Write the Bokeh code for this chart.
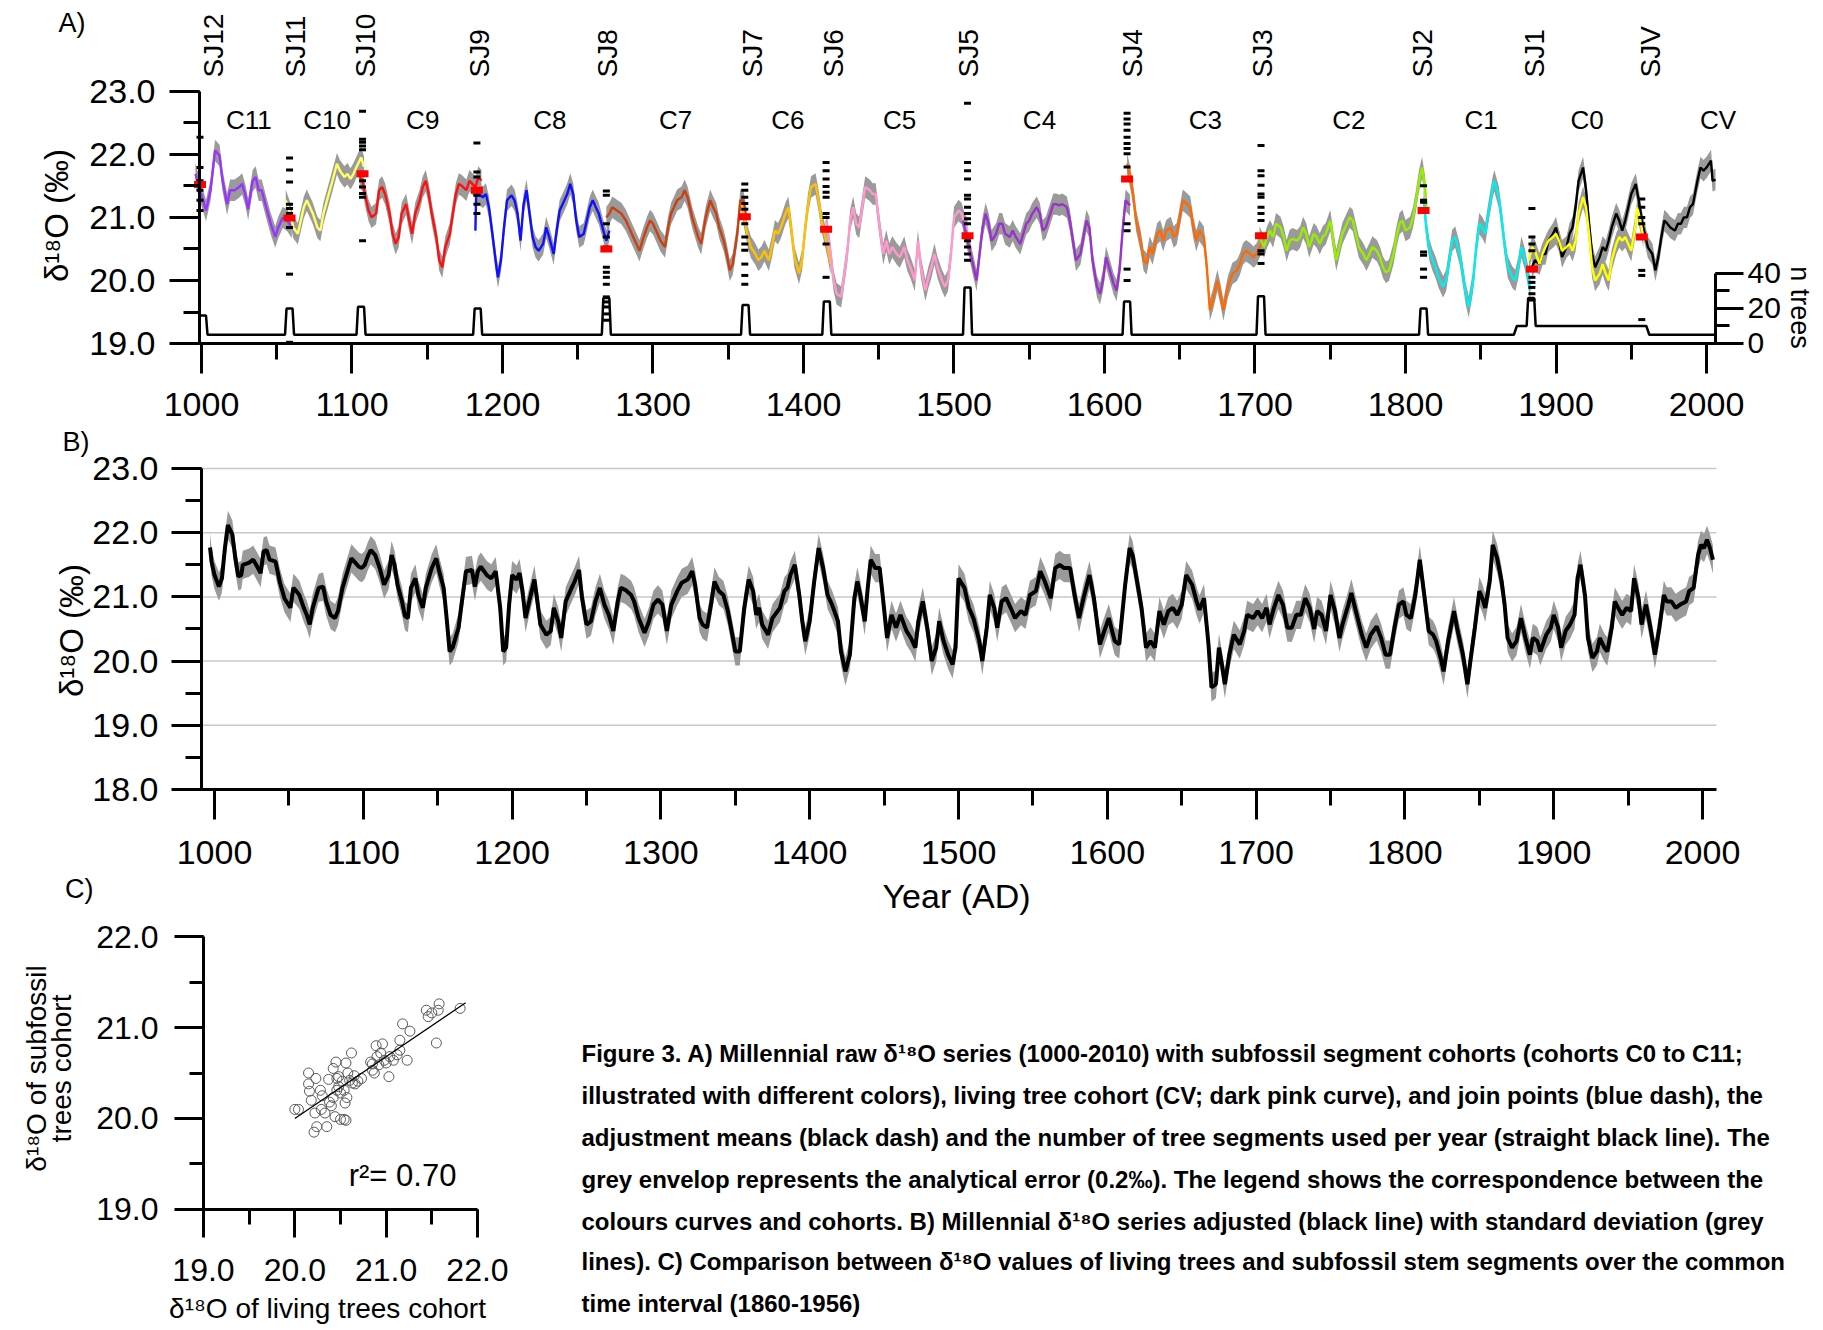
import math
from bokeh.plotting import figure
from bokeh.layouts import column, row
from bokeh.models import (Range1d, LinearAxis, SingleIntervalTicker, PrintfTickFormatter)
from bokeh.embed import file_html
from bokeh.resources import INLINE
from bokeh.core.properties import value

FONT = "Liberation Sans"

# ---------------- Panel A: raw cohorts ----------------
c11_year = [996, 999, 1003, 1006, 1009, 1012, 1014, 1017, 1019, 1022, 1025, 1027, 1029, 1031, 1034, 1036, 1038, 1040, 1043, 1046, 1049, 1051, 1054, 1057, 1060]
c11_val = [21.69, 21.43, 21.11, 21.43, 22.06, 21.98, 21.58, 21.21, 21.43, 21.43, 21.48, 21.53, 21.37, 21.13, 21.58, 21.64, 21.43, 21.43, 21.16, 20.90, 20.69, 20.84, 21.0, 20.95, 20.84]
c10_year = [1056, 1059, 1061, 1064, 1066, 1068, 1070, 1074, 1077, 1079, 1081, 1084, 1087, 1090, 1092, 1095, 1097, 1099, 1101, 1103, 1106, 1108]
c10_val = [21.27, 21.06, 20.84, 20.74, 20.95, 21.16, 21.27, 21.06, 20.84, 20.79, 21.06, 21.32, 21.58, 21.85, 21.74, 21.64, 21.69, 21.61, 21.69, 21.80, 21.95, 21.80]
c9_year = [1105, 1107, 1109, 1111, 1113, 1116, 1118, 1120, 1122, 1125, 1127, 1129, 1131, 1133, 1136, 1138, 1140, 1142, 1145, 1147, 1149, 1151, 1153, 1156, 1158, 1160, 1162, 1165, 1167, 1169, 1171, 1173, 1176, 1178, 1180, 1182, 1184, 1186]
c9_val = [21.64, 21.58, 21.32, 21.11, 21.0, 21.06, 21.43, 21.48, 21.37, 21.06, 20.74, 20.58, 20.69, 21.06, 21.21, 20.95, 20.74, 21.06, 21.27, 21.48, 21.58, 21.37, 21.06, 20.69, 20.32, 20.21, 20.53, 20.74, 21.06, 21.37, 21.53, 21.50, 21.43, 21.58, 21.53, 21.48, 21.64, 21.58]
c8_year = [1182, 1182.5, 1184, 1187, 1189, 1191, 1193, 1196, 1197, 1199, 1201, 1203, 1206, 1208, 1210, 1212, 1214, 1216, 1218, 1220, 1222, 1224, 1227, 1229, 1231, 1234, 1236, 1238, 1240, 1243, 1245, 1247, 1249, 1251, 1254, 1256, 1258, 1260, 1262, 1264, 1267, 1269, 1271]
c8_val = [20.79, 21.37, 21.37, 21.32, 21.37, 21.16, 20.79, 20.21, 20.05, 20.32, 20.84, 21.27, 21.35, 21.27, 21.06, 20.63, 21.21, 21.43, 21.06, 20.69, 20.53, 20.47, 20.58, 20.84, 20.69, 20.42, 20.79, 21.11, 21.21, 21.37, 21.53, 21.37, 20.95, 20.69, 20.74, 20.95, 21.16, 21.27, 21.16, 21.06, 20.79, 20.63, 20.79]
c7_year = [1269, 1271, 1273, 1276, 1279, 1282, 1285, 1289, 1291, 1293, 1296, 1298, 1300, 1303, 1305, 1308, 1310, 1312, 1314, 1316, 1319, 1321, 1323, 1326, 1330, 1332, 1335, 1338, 1340, 1342, 1344, 1347, 1349, 1351, 1353, 1356, 1358, 1360, 1362]
c7_val = [21.0, 21.06, 21.16, 21.11, 21.06, 20.95, 20.79, 20.58, 20.47, 20.63, 20.84, 20.95, 20.90, 20.74, 20.63, 20.53, 20.84, 21.06, 21.16, 21.27, 21.32, 21.43, 21.32, 21.0, 20.69, 20.58, 21.0, 21.27, 21.16, 21.06, 20.84, 20.63, 20.42, 20.16, 20.26, 20.74, 21.27, 21.27, 21.0]
c6_year = [1359, 1361, 1363, 1365, 1368, 1370, 1372, 1374, 1377, 1379, 1381, 1383, 1385, 1388, 1390, 1392, 1394, 1397, 1399, 1401, 1403, 1405, 1408, 1410, 1412, 1414, 1416, 1418]
c6_val = [21.21, 20.95, 20.69, 20.53, 20.42, 20.32, 20.37, 20.47, 20.32, 20.53, 20.79, 20.74, 20.84, 21.06, 21.16, 20.79, 20.37, 20.11, 20.32, 20.79, 21.21, 21.48, 21.53, 21.27, 20.95, 20.74, 20.53, 20.26]
c5_year = [1415, 1418, 1420, 1422, 1425, 1426, 1429, 1431, 1433, 1435, 1437, 1439, 1441, 1444, 1446, 1448, 1450, 1453, 1455, 1457, 1459, 1462, 1464, 1467, 1469, 1471, 1474, 1476, 1478, 1481, 1483, 1485, 1487, 1489, 1492, 1494, 1496, 1498, 1500, 1503, 1505, 1507, 1509]
c5_val = [20.95, 20.42, 20.0, 19.79, 19.74, 19.9, 20.42, 20.95, 21.16, 20.9, 20.84, 21.16, 21.48, 21.43, 21.37, 21.37, 20.95, 20.42, 20.63, 20.42, 20.53, 20.42, 20.37, 20.53, 20.32, 20.21, 20.0, 20.63, 20.21, 19.84, 20.05, 20.21, 20.42, 20.21, 20.0, 19.9, 20.0, 20.42, 21.0, 21.11, 21.06, 20.9, 20.8]
c4_year = [1506, 1508, 1510, 1513, 1515, 1517, 1519, 1521, 1523, 1525, 1528, 1530, 1532, 1534, 1537, 1539, 1541, 1544, 1546, 1548, 1550, 1552, 1555, 1557, 1559, 1561, 1564, 1566, 1568, 1570, 1572, 1575, 1577, 1579, 1581, 1584, 1586, 1588, 1590, 1592, 1595, 1597, 1599, 1601, 1603, 1606, 1608, 1610, 1612, 1614, 1617]
c4_val = [20.95, 20.74, 20.53, 20.21, 20.0, 20.42, 20.84, 21.06, 20.90, 20.63, 20.74, 20.9, 20.9, 20.74, 20.69, 20.79, 20.69, 20.58, 20.74, 20.9, 20.95, 21.06, 21.16, 21.06, 20.79, 20.84, 21.06, 21.21, 21.21, 21.19, 21.21, 21.16, 20.95, 20.63, 20.32, 20.42, 20.69, 20.95, 20.84, 20.32, 19.9, 19.79, 20.0, 20.37, 20.21, 19.95, 19.84, 20.16, 20.79, 21.27, 21.19]
c3_year = [1615, 1617, 1619, 1621, 1624, 1626, 1628, 1630, 1632, 1635, 1637, 1639, 1641, 1644, 1646, 1648, 1650, 1652, 1655, 1657, 1659, 1661, 1663, 1666, 1668, 1670, 1672, 1675, 1677, 1679, 1682, 1685, 1688, 1690, 1692, 1694, 1697, 1699, 1701, 1703, 1705]
c3_val = [21.85, 21.64, 21.37, 20.95, 20.63, 20.32, 20.26, 20.53, 20.42, 20.74, 20.79, 20.63, 20.79, 20.84, 20.69, 20.74, 21.0, 21.27, 21.21, 21.16, 20.84, 20.63, 20.79, 20.69, 20.21, 19.53, 19.69, 20.0, 19.79, 19.53, 19.9, 20.11, 20.16, 20.26, 20.42, 20.47, 20.42, 20.37, 20.42, 20.53, 20.6]
c2_year = [1703, 1706, 1708, 1710, 1712, 1714, 1717, 1719, 1721, 1723, 1725, 1728, 1730, 1732, 1734, 1736, 1739, 1741, 1743, 1745, 1747, 1750, 1752, 1754, 1756, 1758, 1761, 1763, 1765, 1767, 1769, 1772, 1774, 1776, 1778, 1781, 1783, 1785, 1787, 1789, 1792, 1794, 1796, 1798, 1800, 1803, 1805, 1807, 1809, 1811, 1813, 1814]
c2_val = [20.69, 20.53, 20.69, 20.79, 20.69, 20.9, 20.84, 20.69, 20.47, 20.63, 20.66, 20.63, 20.69, 20.84, 20.74, 20.53, 20.74, 20.69, 20.58, 20.69, 20.74, 20.95, 20.63, 20.32, 20.53, 20.74, 20.90, 21.0, 20.95, 20.74, 20.53, 20.42, 20.32, 20.42, 20.53, 20.47, 20.37, 20.21, 20.13, 20.16, 20.42, 20.69, 20.9, 20.95, 20.79, 20.84, 21.0, 21.27, 21.58, 21.79, 21.48, 21.16]
c1_year = [1812, 1814, 1816, 1818, 1820, 1822, 1825, 1827, 1829, 1831, 1833, 1836, 1838, 1840, 1842, 1845, 1847, 1849, 1851, 1853, 1855, 1858, 1859, 1862, 1864, 1866, 1868, 1871, 1873, 1875, 1877, 1879, 1882, 1883]
c1_val = [21.3, 20.79, 20.47, 20.32, 20.21, 20.05, 19.90, 20.0, 20.32, 20.63, 20.69, 20.42, 20.11, 19.79, 19.58, 20.0, 20.53, 20.9, 20.84, 20.74, 21.06, 21.48, 21.58, 21.32, 20.95, 20.53, 20.21, 20.05, 20.0, 20.21, 20.53, 20.37, 20.0, 19.85]
c0_year = [1882, 1884, 1886, 1889, 1891, 1893, 1895, 1898, 1900, 1902, 1904, 1907, 1909, 1911, 1913, 1915, 1918, 1920, 1922, 1924, 1926, 1929, 1931, 1933, 1935, 1937, 1940, 1942, 1944, 1946, 1948, 1950, 1953, 1954, 1956, 1958]
c0_val = [20.32, 20.53, 20.47, 20.26, 20.42, 20.53, 20.63, 20.69, 20.74, 20.63, 20.47, 20.53, 20.58, 20.47, 20.63, 21.06, 21.32, 21.16, 20.74, 20.21, 20.0, 20.11, 20.26, 20.11, 20.0, 20.32, 20.58, 20.69, 20.63, 20.69, 20.58, 20.47, 20.90, 21.16, 20.95, 20.69]
cv_year = [1884, 1886, 1889, 1891, 1893, 1895, 1898, 1900, 1902, 1904, 1907, 1909, 1911, 1913, 1915, 1918, 1920, 1922, 1924, 1926, 1929, 1931, 1933, 1935, 1937, 1940, 1942, 1944, 1946, 1948, 1950, 1953, 1955, 1957, 1959, 1961, 1964, 1966, 1968, 1970, 1972, 1974, 1976, 1979, 1981, 1983, 1985, 1987, 1989, 1991, 1994, 1996, 1998, 2000, 2003, 2004, 2006]
cv_val = [20.21, 20.32, 20.26, 20.42, 20.42, 20.63, 20.74, 20.84, 20.63, 20.37, 20.53, 20.74, 20.84, 21.16, 21.58, 21.79, 21.43, 20.9, 20.42, 20.21, 20.37, 20.53, 20.47, 20.63, 20.84, 21.06, 20.95, 20.79, 20.95, 21.16, 21.37, 21.53, 21.27, 20.95, 20.74, 20.53, 20.42, 20.16, 20.37, 20.69, 20.95, 20.90, 20.84, 20.79, 20.90, 20.9, 21.0, 21.0, 21.16, 21.21, 21.58, 21.79, 21.74, 21.79, 21.90, 21.58, 21.6]

cohort_names = ["C11", "C10", "C9", "C8", "C7", "C6", "C5", "C4", "C3", "C2", "C1", "C0", "CV"]
cohort_colors = ["#9933FF", "#FFFF66", "#FF1010", "#1010FF", "#CC4010", "#FFC000", "#FF99CC",
                 "#9933CC", "#FF6A00", "#99EE00", "#00EEEE", "#FFFF00", "#000000"]
cohort_label_year = [1031.5, 1083.5, 1147, 1231.5, 1315, 1389.6, 1463.8, 1556.8, 1667, 1762.4, 1850.3, 1920.6, 2007.6]
cohort_label_val = 22.54

join_names = ["SJ12", "SJ11", "SJ10", "SJ9", "SJ8", "SJ7", "SJ6", "SJ5", "SJ4", "SJ3", "SJ2", "SJ1", "SJV"]
join_label_year = [1007.7, 1062.3, 1109, 1185, 1269.8, 1366, 1420, 1509.5, 1618.3, 1705, 1811, 1885.4, 1962.5]
join_year = [999, 1058.5, 1107, 1183, 1269, 1361, 1415, 1509, 1615, 1704, 1812, 1884, 1957]
join_val = [21.52, 20.99, 21.69, 21.43, 20.5, 21.01, 20.81, 20.71, 21.61, 20.71, 21.11, 20.18, 20.69]

d_sj12 = [22.27, 21.79, 21.58, 21.43, 21.27, 21.11]
d_sj11 = [21.94, 21.75, 21.56, 21.21, 21.14, 21.06, 20.84, 20.10, 19.02]
d_sj10 = [22.68, 22.24, 22.19, 22.13, 22.07, 21.58, 21.48, 21.38, 21.32, 20.63]
d_sj9 = [22.18, 21.72, 21.64, 21.43, 21.35, 21.21, 21.06]
d_sj8 = [21.42, 21.35, 20.90, 20.69, 20.53, 20.21, 20.13, 20.05, 19.94, 19.74, 19.66, 19.58, 19.47, 19.37]
d_sj7 = [21.53, 21.43, 21.32, 21.22, 21.13, 20.90, 20.69, 20.58, 20.48, 20.26, 20.08, 19.94]
d_sj6 = [21.87, 21.74, 21.61, 21.49, 21.40, 21.32, 21.06, 21.0, 20.58, 20.05]
d_sj5 = [22.81, 21.87, 21.74, 21.61, 21.35, 21.29, 21.16, 21.06, 20.98, 20.90, 20.63, 20.53, 20.42, 20.32]
d_sj4 = [22.65, 22.56, 22.48, 22.38, 22.27, 22.17, 22.09, 22.01, 21.80, 20.90, 20.79, 20.18, 20.0]
d_sj3 = [22.14, 21.74, 21.66, 21.51, 21.37, 21.32, 21.16, 21.06, 20.95, 20.47, 20.42, 20.27]
d_sj2 = [21.50, 21.27, 21.24, 20.45, 20.40, 20.18, 20.05]
d_sj1 = [21.14, 20.69, 20.58, 20.47, 20.05, 19.97, 19.89, 19.79, 19.69]
d_sjv = [21.29, 21.16, 21.0, 20.90, 20.16, 20.08, 19.38]

# number of trees (step line)
ntree_base = 5
ntree_start_n = 16
ntree_start_end = 1003
ntree_peak_year = [1058.5, 1106, 1183.5, 1269, 1361.5, 1415.5, 1509, 1615, 1704, 1812, 1883.5]
ntree_peak_n = [20, 21, 20, 26, 22, 24, 32, 24, 27, 20, 26]
ntree_plateau = (1873, 1960, 10)

# ---------------- Panel B: adjusted series ----------------
b_year = [997, 998, 1000, 1003, 1005, 1007, 1009, 1012, 1014, 1016, 1018, 1019, 1023, 1026, 1028, 1031, 1033, 1035, 1037, 1041, 1044, 1047, 1051, 1053, 1055, 1057, 1060, 1062, 1064, 1066, 1070, 1073, 1075, 1078, 1081, 1083, 1086, 1090, 1092, 1094, 1097, 1099, 1101, 1103, 1105, 1108, 1111, 1114, 1117, 1119, 1121, 1123, 1126, 1128, 1130, 1132, 1135, 1137, 1140, 1142, 1146, 1149, 1151, 1154, 1156, 1158, 1160, 1164, 1166, 1169, 1173, 1175, 1177, 1179, 1183, 1186, 1189, 1192, 1194, 1196, 1198, 1200, 1203, 1205, 1207, 1209, 1212, 1215, 1217, 1219, 1223, 1226, 1228, 1231, 1233, 1236, 1240, 1242, 1245, 1247, 1250, 1253, 1256, 1259, 1262, 1265, 1268, 1271, 1273, 1276, 1280, 1282, 1285, 1289, 1292, 1295, 1298, 1301, 1304, 1307, 1311, 1314, 1318, 1321, 1323,
          1326, 1328, 1331, 1334, 1336, 1339, 1342, 1345, 1348, 1350, 1353, 1356, 1359, 1362, 1364, 1366, 1368, 1372, 1375, 1380, 1383, 1385, 1387, 1390, 1393, 1395, 1397, 1400, 1403, 1406, 1409, 1412, 1415, 1419, 1421, 1424, 1427, 1430, 1432, 1434, 1437, 1439, 1441, 1444, 1447, 1449, 1452, 1455, 1458, 1461, 1465, 1468, 1471, 1473, 1476, 1479, 1482, 1485, 1487, 1490, 1493, 1496, 1498, 1500, 1504, 1507, 1510, 1514, 1516, 1519, 1521, 1524, 1526, 1529, 1532, 1535, 1538, 1542, 1545, 1548, 1552, 1555, 1558, 1562, 1565, 1568, 1571, 1575, 1578, 1581, 1584, 1588, 1591, 1595, 1598, 1601, 1605, 1608, 1612, 1615, 1617, 1620, 1623, 1626, 1629, 1632, 1635, 1638, 1641, 1644, 1647, 1650, 1653, 1657, 1660,
          1662, 1665, 1668, 1670, 1673, 1675, 1677, 1679, 1682, 1685, 1689, 1692, 1694, 1698, 1701, 1704, 1707, 1709, 1712, 1715, 1718, 1721, 1724, 1727, 1730, 1733, 1736, 1739, 1741, 1744, 1747, 1750, 1753, 1756, 1758, 1762, 1764, 1767, 1771, 1774, 1777, 1781, 1784, 1787, 1790, 1793, 1796, 1799, 1801, 1804, 1807, 1810, 1813, 1816, 1819, 1821, 1824, 1826, 1829, 1833, 1835, 1839, 1842, 1844, 1847, 1850, 1852, 1854, 1857, 1859, 1862, 1865, 1867, 1869, 1872, 1875, 1878, 1881, 1884, 1886, 1889, 1891, 1895, 1898, 1900, 1903, 1905, 1908, 1911, 1914, 1916, 1918, 1921, 1923, 1926, 1929, 1931, 1934, 1936, 1939, 1941, 1944, 1946, 1949, 1952, 1954, 1957, 1959, 1962, 1965, 1968, 1971, 1974, 1976, 1979, 1982, 1985, 1989, 1991, 1994, 1997, 1999, 2001, 2003, 2005, 2007]
b_val = [21.77, 21.55, 21.34, 21.16, 21.29, 21.76, 22.12, 21.97, 21.6, 21.32, 21.34, 21.5, 21.53, 21.58, 21.5, 21.37, 21.71, 21.73, 21.58, 21.55, 21.22, 20.98, 20.83, 21.14, 21.09, 21.03, 20.83, 20.72, 20.57, 20.83, 21.14, 21.16, 20.93, 20.72, 20.67, 20.78, 21.14, 21.45, 21.6, 21.55, 21.47, 21.45, 21.5, 21.63, 21.73, 21.65, 21.45, 21.19, 21.34, 21.65, 21.5, 21.19, 20.93, 20.7, 20.67, 21.14, 21.29, 21.03, 20.83, 21.14, 21.45, 21.6, 21.4, 21.14, 20.67, 20.15, 20.21, 20.52, 20.88, 21.4, 21.42, 21.16, 21.4, 21.47, 21.34, 21.29, 21.4, 20.83, 20.15, 20.21, 20.88, 21.34, 21.27, 21.37, 21.09, 20.67, 20.98, 21.27, 20.93, 20.57, 20.41, 20.47, 20.83, 20.62, 20.36, 20.93, 21.14, 21.24, 21.42, 20.98, 20.57, 20.62, 20.93, 21.14, 20.88, 20.72, 20.47, 20.93, 21.14, 21.11, 21.03, 20.93, 20.67, 20.44, 20.62, 20.88, 20.96, 20.88, 20.47, 20.88, 21.09, 21.22, 21.27, 21.4, 21.19,
         20.67, 20.57, 20.52, 20.93, 21.24, 21.09, 21.03, 20.78, 20.41, 20.15, 20.15, 20.83, 21.27, 21.09, 20.72, 20.83, 20.57, 20.41, 20.67, 20.83, 21.09, 21.14, 21.34, 21.5, 21.03, 20.62, 20.31, 20.62, 21.24, 21.76, 21.45, 21.03, 20.88, 20.62, 20.15, 19.84, 20.1, 20.98, 21.24, 21.03, 20.62, 21.14, 21.58, 21.45, 21.45, 21.03, 20.36, 20.72, 20.52, 20.72, 20.47, 20.36, 20.21, 20.62, 20.93, 20.52, 20.0, 20.21, 20.62, 20.31, 20.1, 19.95, 20.21, 21.29, 21.14, 20.83, 20.67, 20.31, 20.0, 20.52, 21.03, 20.83, 20.52, 20.93, 20.98, 20.83, 20.67, 20.78, 20.72, 21.03, 21.09, 21.4, 21.24, 20.98, 21.45, 21.5, 21.45, 21.45, 21.03, 20.67, 20.98, 21.34, 20.98, 20.26, 20.47, 20.67, 20.31, 20.26, 21.19, 21.76, 21.65, 21.24, 20.83, 20.21, 20.31, 20.21, 20.78, 20.57, 20.78, 20.83, 20.72, 20.88, 21.34, 21.19, 20.93,
         20.8, 20.98, 20.26, 19.59, 19.64, 20.21, 19.95, 19.64, 20.1, 20.41, 20.26, 20.47, 20.72, 20.67, 20.78, 20.67, 20.83, 20.57, 20.83, 21.03, 20.88, 20.52, 20.52, 20.72, 20.72, 20.98, 20.83, 20.5, 20.78, 20.72, 20.47, 21.03, 20.78, 20.36, 20.57, 20.88, 21.06, 20.78, 20.41, 20.21, 20.41, 20.54, 20.36, 20.1, 20.1, 20.52, 20.88, 20.93, 20.72, 20.67, 21.03, 21.58, 21.03, 20.47, 20.41, 20.31, 20.05, 19.84, 20.31, 20.78, 20.52, 20.1, 19.64, 20.0, 20.52, 21.09, 20.98, 20.83, 21.24, 21.81, 21.6, 21.24, 20.88, 20.36, 20.21, 20.31, 20.67, 20.36, 20.1, 20.36, 20.31, 20.15, 20.41, 20.52, 20.72, 20.52, 20.21, 20.47, 20.57, 20.72, 21.29, 21.5, 21.03, 20.36, 20.05, 20.15, 20.36, 20.21, 20.15, 20.52, 20.93, 20.8, 20.72, 20.83, 20.78, 21.29, 20.98, 20.57, 20.88, 20.52, 20.1, 20.52, 21.03, 20.93, 20.93, 20.83, 20.88, 20.93, 21.09, 21.14, 21.65, 21.81, 21.76, 21.89, 21.76, 21.58]
b_sd = 0.22
a_err = 0.17
grid_vals = [19, 20, 21, 22, 23]

# ---------------- Panel C: scatter ----------------
c_living = [20.00, 20.04, 20.15, 20.15, 20.16, 20.18, 20.21, 20.23, 20.24, 20.22, 20.28, 20.29, 20.33, 20.35, 20.37, 20.38, 20.42, 20.42, 20.44, 20.45, 20.46, 20.48, 20.50, 20.52, 20.54, 20.56, 20.55, 20.56, 20.57, 20.58, 20.60, 20.62, 20.63, 20.65, 20.69, 20.73, 20.83, 20.85, 20.87, 20.89, 20.90, 20.92, 20.94, 20.96, 20.98, 21.00, 21.03, 21.04, 21.08, 21.12, 21.15, 21.15, 21.18, 21.23, 21.26, 21.44, 21.46, 21.50, 21.55, 21.57, 21.58, 21.81, 20.46, 20.50, 20.40, 20.54, 20.66, 20.85, 20.30, 20.48]
c_subfossil = [20.10, 20.10, 20.50, 20.38, 20.30, 20.20, 19.85, 20.44, 19.91, 20.06, 20.31, 20.10, 20.06, 19.91, 20.43, 20.18, 20.23, 20.55, 20.02, 20.62, 20.44, 20.46, 19.99, 20.41, 19.99, 19.98, 20.17, 20.61, 20.23, 20.50, 20.42, 20.72, 20.39, 20.47, 20.41, 20.44, 20.62, 20.53, 20.50, 20.80, 20.68, 20.59, 20.72, 20.82, 20.64, 20.61, 20.46, 20.68, 20.64, 20.70, 20.75, 20.86, 21.04, 20.64, 20.96, 21.19, 21.12, 21.16, 20.83, 21.19, 21.26, 21.21, 20.31, 20.28, 20.14, 20.31, 20.38, 20.60, 20.25, 20.35]
fit_x = [20.0, 21.87]
fit_slope = 0.68
fit_intercept = 6.40
r2_text = "r\u00b2= 0.70"

caption_lines = [
    "Figure 3. A) Millennial raw \u03b4\u00b9\u2078O series (1000-2010) with subfossil segment cohorts (cohorts C0 to C11;",
    "illustrated with different colors), living tree cohort (CV; dark pink curve), and join points (blue dash), the",
    "adjustment means (black dash) and the number of tree segments used per year (straight black line). The",
    "grey envelop represents the analytical error (0.2\u2030). The legend shows the correspondence between the",
    "colours curves and cohorts. B) Millennial \u03b4\u00b9\u2078O series adjusted (black line) with standard deviation (grey",
    "lines). C) Comparison between \u03b4\u00b9\u2078O values of living trees and subfossil stem segments over the common",
    "time interval (1860-1956)",
]

D18 = "\u03b4\u00b9\u2078O"


def style_axis(ax, tick_out=30, minor_out=16, fs="34px", standoff=14):
    ax.axis_line_width = 3
    ax.axis_line_color = "black"
    ax.major_tick_line_width = 3
    ax.minor_tick_line_width = 3
    ax.major_tick_line_color = "black"
    ax.minor_tick_line_color = "black"
    ax.major_tick_out = tick_out
    ax.major_tick_in = 0
    ax.minor_tick_out = minor_out
    ax.minor_tick_in = 0
    ax.major_label_text_font = FONT
    ax.major_label_text_font_size = fs
    ax.major_label_text_color = "black"
    ax.major_label_standoff = standoff


def txt(p, x, y, s, size, angle=0.0, align="left", baseline="middle", style="normal"):
    p.text(x=[x], y=[y], text=[s], angle=angle, text_font=value(FONT), text_font_size=size,
           text_align=align, text_baseline=baseline, text_color="black", text_font_style=style)


def bare_fig(w, h, xr, yr):
    p = figure(width=w, height=h, x_range=Range1d(*xr), y_range=Range1d(*yr),
               x_axis_type=None, y_axis_type=None, output_backend="svg", toolbar_location=None,
               min_border=0, min_border_left=0, min_border_right=0, min_border_top=0,
               min_border_bottom=0)
    p.outline_line_color = None
    return p


# ================= Figure A (page rows 0..426) =================
A_X0, A_X1 = 998.7, 2006.0
pA = bare_fig(1823, 426, (866.45, 2077.74), (17.686, 24.437))
pA.extra_y_ranges = {"ntrees": Range1d(-47.43, 196.0)}

xa = LinearAxis(ticker=SingleIntervalTicker(interval=100, num_minor_ticks=2),
                fixed_location=19.0, bounds=(A_X0, A_X1))
style_axis(xa, standoff=19)
pA.add_layout(xa, "below")
ya = LinearAxis(ticker=SingleIntervalTicker(interval=1, num_minor_ticks=2),
                formatter=PrintfTickFormatter(format="%.1f"), bounds=(19, 23), fixed_location=A_X0)
style_axis(ya, standoff=14)
pA.add_layout(ya, "left")
ra = LinearAxis(y_range_name="ntrees", ticker=SingleIntervalTicker(interval=20, num_minor_ticks=2),
                bounds=(0, 40), fixed_location=A_X1)
style_axis(ra, tick_out=28, minor_out=14, fs="30px", standoff=4)
pA.add_layout(ra, "right")

cohort_years = [c11_year, c10_year, c9_year, c8_year, c7_year, c6_year, c5_year, c4_year,
                c3_year, c2_year, c1_year, c0_year, cv_year]
cohort_vals = [c11_val, c10_val, c9_val, c8_val, c7_val, c6_val, c5_val, c4_val,
               c3_val, c2_val, c1_val, c0_val, cv_val]
for yrs, vals in zip(cohort_years, cohort_vals):
    pA.varea(x=yrs, y1=[v - a_err for v in vals], y2=[v + a_err for v in vals],
             fill_color="#9a9a9a")
draw_order = [0, 1, 2, 3, 4, 5, 6, 7, 8, 9, 10, 12, 11]
for i in draw_order:
    pA.line(cohort_years[i], cohort_vals[i], line_color=cohort_colors[i], line_width=2.4)

# n trees step line
nx = [A_X0 + 0.5, ntree_start_end, ntree_start_end + 1]
ny = [ntree_start_n, ntree_start_n, ntree_base]
pl0, pl1, pln = ntree_plateau
for cy, cn in zip(ntree_peak_year, ntree_peak_n):
    base = pln if pl0 < cy < pl1 else ntree_base
    if pl0 < cy < pl1:
        nx += [pl0 - 1, pl0 + 1]
        ny += [ntree_base, pln]
    nx += [cy - 3, cy - 2, cy + 2, cy + 3]
    ny += [base, cn, cn, base]
nx += [pl1, pl1 + 2, A_X1]
ny += [pln, ntree_base, ntree_base]
pA.line(nx, ny, y_range_name="ntrees", line_color="black", line_width=2.5)

# adjustment means (black dashes)
dash_lists = [d_sj12, d_sj11, d_sj10, d_sj9, d_sj8, d_sj7, d_sj6, d_sj5, d_sj4, d_sj3, d_sj2, d_sj1, d_sjv]
dx, dy = [], []
for jy, dl in zip(join_year, dash_lists):
    dx += [jy] * len(dl)
    dy += dl
pA.rect(x=dx, y=dy, width=7, height=3, width_units="screen", height_units="screen",
        fill_color="black", line_color=None)
# join points
pA.rect(x=join_year, y=join_val, width=12, height=7, width_units="screen", height_units="screen",
        fill_color="#FF0000", line_color=None)

pA.text(x=cohort_label_year, y=[cohort_label_val] * len(cohort_names), text=cohort_names,
        text_font=value(FONT), text_font_size="26px", text_align="center", text_baseline="middle",
        text_color="black")
pA.text(x=join_label_year, y=[23.217] * len(join_names), text=join_names, angle=math.pi / 2,
        text_font=value(FONT), text_font_size="28px", text_align="left", text_baseline="middle",
        text_color="black")
txt(pA, 904.98, 24.073, "A)", "27px")
txt(pA, 903.6, 21.03, D18 + " (\u2030)", "33px", angle=math.pi / 2, align="center")
txt(pA, 2062.0, 19.572, "n trees", "27px", angle=-math.pi / 2, align="center")

# ================= Figure B (page rows 426..916) =================
B_X0, B_X1 = 991.26, 2009.4
pB = bare_fig(1823, 490, (856.18, 2081.3), (16.022, 23.654))
xb = LinearAxis(ticker=SingleIntervalTicker(interval=100, num_minor_ticks=2),
                fixed_location=18.0, bounds=(B_X0, B_X1))
style_axis(xb, standoff=21)
pB.add_layout(xb, "below")
yb = LinearAxis(ticker=SingleIntervalTicker(interval=1, num_minor_ticks=2),
                formatter=PrintfTickFormatter(format="%.1f"), bounds=(18, 23), fixed_location=B_X0)
style_axis(yb, standoff=13)
pB.add_layout(yb, "left")
pB.segment(x0=[B_X0] * len(grid_vals), x1=[B_X1] * len(grid_vals), y0=grid_vals, y1=grid_vals,
           line_color="#c8c8c8", line_width=1.5)
pB.varea(x=b_year, y1=[v - b_sd for v in b_val], y2=[v + b_sd for v in b_val], fill_color="#9a9a9a")
pB.line(b_year, b_val, line_color="black", line_width=4)
txt(pB, 897.85, 23.405, "B)", "27px")
txt(pB, 899.5, 16.458, "C)", "27px")
txt(pB, 903.6, 20.477, D18 + " (\u2030)", "33px", angle=math.pi / 2, align="center")
txt(pB, 1498.66, 16.349, "Year (AD)", "34px", align="center")

# ================= Figure C (page rows 916..1330) =================
pC = bare_fig(560, 414, (16.777, 22.909), (17.670, 22.220))
xc = LinearAxis(ticker=SingleIntervalTicker(interval=1, num_minor_ticks=2),
                formatter=PrintfTickFormatter(format="%.1f"), fixed_location=19.0, bounds=(19, 22))
style_axis(xc, tick_out=28, minor_out=15, fs="32px", standoff=22)
pC.add_layout(xc, "below")
yc = LinearAxis(ticker=SingleIntervalTicker(interval=1, num_minor_ticks=2),
                formatter=PrintfTickFormatter(format="%.1f"), fixed_location=19.0, bounds=(19, 22))
style_axis(yc, tick_out=29, minor_out=14, fs="32px", standoff=16)
pC.add_layout(yc, "left")
pC.scatter(c_living, c_subfossil, marker="circle", size=10, fill_color=None,
           line_color="#5a5a5a", line_width=1)
pC.line(fit_x, [fit_intercept + fit_slope * x for x in fit_x], line_color="black", line_width=1.3)
txt(pC, 20.59, 19.374, r2_text, "31px")
txt(pC, 17.171, 20.55, D18 + " of subfossil", "28px", angle=math.pi / 2, align="center")
txt(pC, 17.445, 20.55, "trees cohort", "28px", angle=math.pi / 2, align="center")
txt(pC, 20.358, 17.912, D18 + " of living trees cohort", "28px", align="center")

# ================= Caption =================
pT = bare_fig(1263, 414, (0, 1263), (414, 0))
cap_y = [137, 179, 221, 263, 305, 345, 387]
pT.text(x=[21] * len(caption_lines), y=cap_y, text=caption_lines, text_font=value(FONT),
        text_font_size="24px", text_font_style="bold", text_align="left", text_baseline="middle",
        text_color="black")

layout = column(pA, pB, row(pC, pT))
open("out.html", "w").write(file_html(layout, INLINE))
